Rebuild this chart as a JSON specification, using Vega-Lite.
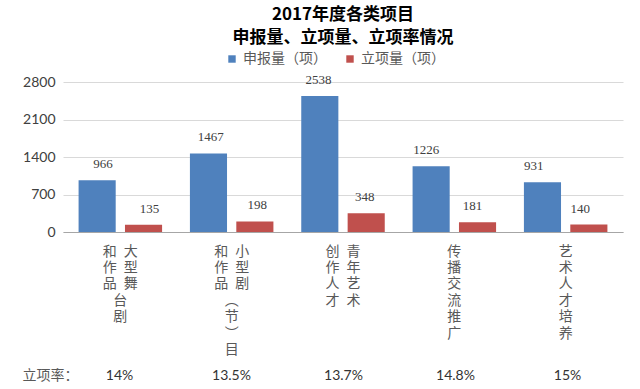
{
  "$schema": "https://vega.github.io/schema/vega-lite/v6.json",
  "autosize": "none",
  "width": 560,
  "height": 150,
  "padding": {"left": 63, "top": 82, "right": 17, "bottom": 157},
  "background": "white",
  "title": {
    "text": ["2017年度各类项目", "申报量、立项量、立项率情况"],
    "font": "Noto Sans CJK SC",
    "fontSize": 17,
    "fontWeight": "bold",
    "color": "#000000",
    "lineHeight": 23,
    "anchor": "middle",
    "frame": "group",
    "offset": 5
  },
  "datasets": {
    "bars": [
      {"cat": "大型舞台剧 和作品", "series": "申报量（项）", "value": 966},
      {"cat": "大型舞台剧 和作品", "series": "立项量（项）", "value": 135},
      {"cat": "小型剧︵节︶目 和作品", "series": "申报量（项）", "value": 1467},
      {"cat": "小型剧︵节︶目 和作品", "series": "立项量（项）", "value": 198},
      {"cat": "青年艺术 创作人才", "series": "申报量（项）", "value": 2538},
      {"cat": "青年艺术 创作人才", "series": "立项量（项）", "value": 348},
      {"cat": "传播交流推广", "series": "申报量（项）", "value": 1226},
      {"cat": "传播交流推广", "series": "立项量（项）", "value": 181},
      {"cat": "艺术人才培养", "series": "申报量（项）", "value": 931},
      {"cat": "艺术人才培养", "series": "立项量（项）", "value": 140}
    ],
    "rates": [
      {"cat": "大型舞台剧 和作品", "rate": "14%"},
      {"cat": "小型剧︵节︶目 和作品", "rate": "13.5%"},
      {"cat": "青年艺术 创作人才", "rate": "13.7%"},
      {"cat": "传播交流推广", "rate": "14.8%"},
      {"cat": "艺术人才培养", "rate": "15%"}
    ]
  },
  "layer": [
    {
      "data": {"name": "bars"},
      "mark": {"type": "bar"},
      "encoding": {
        "x": {
          "field": "cat", "type": "nominal", "sort": null,
          "scale": {"paddingInner": 0.25, "paddingOuter": 0.14},
          "axis": {
            "title": null,
            "labelAngle": 0,
            "ticks": false,
            "tickSize": 0,
            "domain": true,
            "domainColor": "#a6a6a6",
            "labelPadding": 12,
            "labelBaseline": "top",
            "labelFont": "Noto Sans CJK SC",
            "labelFontSize": 14,
            "labelLineHeight": 16.4,
            "labelColor": "#595959",
            "labelLimit": 0,
            "labelExpr": "[(length(split(datum.value,' '))==1 ? substring(split(datum.value,' ')[0],0,1) : (substring(split(datum.value,' ')[1],0,1)||'　')+'\u2002'+(substring(split(datum.value,' ')[0],0,1)||'　')), (length(split(datum.value,' '))==1 ? substring(split(datum.value,' ')[0],1,2) : (substring(split(datum.value,' ')[1],1,2)||'　')+'\u2002'+(substring(split(datum.value,' ')[0],1,2)||'　')), (length(split(datum.value,' '))==1 ? substring(split(datum.value,' ')[0],2,3) : (substring(split(datum.value,' ')[1],2,3)||'　')+'\u2002'+(substring(split(datum.value,' ')[0],2,3)||'　')), (length(split(datum.value,' '))==1 ? substring(split(datum.value,' ')[0],3,4) : (substring(split(datum.value,' ')[1],3,4)||'　')+'\u2002'+(substring(split(datum.value,' ')[0],3,4)||'　')), (length(split(datum.value,' '))==1 ? substring(split(datum.value,' ')[0],4,5) : (substring(split(datum.value,' ')[1],4,5)||'　')+'\u2002'+(substring(split(datum.value,' ')[0],4,5)||'　')), (length(split(datum.value,' '))==1 ? substring(split(datum.value,' ')[0],5,6) : (substring(split(datum.value,' ')[1],5,6)||'　')+'\u2002'+(substring(split(datum.value,' ')[0],5,6)||'　')), (length(split(datum.value,' '))==1 ? substring(split(datum.value,' ')[0],6,7) : (substring(split(datum.value,' ')[1],6,7)||'　')+'\u2002'+(substring(split(datum.value,' ')[0],6,7)||'　'))]"
          }
        },
        "xOffset": {"field": "series", "type": "nominal", "sort": null, "scale": {"paddingInner": 0.2}},
        "y": {
          "field": "value", "type": "quantitative",
          "scale": {"domain": [0, 2800]},
          "axis": {
            "title": null,
            "values": [0, 700, 1400, 2100, 2800],
            "format": "d",
            "domain": false,
            "ticks": false,
            "grid": true,
            "gridColor": "#d9d9d9",
            "labelPadding": 8,
            "labelFont": "Lato",
            "labelFontSize": 14,
            "labelColor": "#404040"
          }
        },
        "color": {
          "field": "series", "type": "nominal", "sort": null,
          "scale": {"domain": ["申报量（项）", "立项量（项）"], "range": ["#4F81BD", "#C0504D"]},
          "legend": {
            "title": null,
            "orient": "none",
            "direction": "horizontal",
            "legendX": 162,
            "legendY": -30,
            "symbolType": "square",
            "symbolSize": 55,
            "symbolStrokeWidth": 0,
            "labelFont": "Noto Sans CJK SC",
            "labelFontSize": 14,
            "labelColor": "#595959",
            "columnPadding": 16,
            "labelOffset": 4
          }
        }
      }
    },
    {
      "data": {"name": "bars"},
      "mark": {"type": "text", "baseline": "bottom", "dy": -9, "font": "Liberation Serif", "fontSize": 13, "color": "#404040"},
      "encoding": {
        "x": {"field": "cat", "type": "nominal", "sort": null, "axis": null},
        "xOffset": {"field": "series", "type": "nominal", "sort": null},
        "y": {
          "field": "value", "type": "quantitative",
          "axis": {
            "title": null,
            "values": [0, 700, 1400, 2100, 2800],
            "format": "d",
            "domain": false,
            "ticks": false,
            "grid": true,
            "gridColor": "#d9d9d9",
            "labelPadding": 8,
            "labelFont": "Lato",
            "labelFontSize": 14,
            "labelColor": "#404040"
          }
        },
        "text": {"field": "value", "type": "quantitative"}
      }
    },
    {
      "data": {"name": "rates"},
      "mark": {"type": "point", "opacity": 0},
      "encoding": {
        "x": {
          "field": "rate", "type": "nominal", "sort": null,
          "scale": {"paddingInner": 0.25, "paddingOuter": 0.14},
          "axis": {
            "orient": "bottom",
            "offset": 143,
            "title": "立项率：",
            "titleAngle": 0,
            "titleAlign": "left",
            "titleBaseline": "middle",
            "titleX": -41,
            "titleY": 0,
            "titleFont": "Noto Sans CJK SC",
            "titleFontSize": 14,
            "titleFontWeight": "normal",
            "titleColor": "#595959",
            "labelAngle": 0,
            "domain": false,
            "ticks": false,
            "tickSize": 0,
            "labelPadding": 0,
            "labelBaseline": "middle",
            "labelFont": "Lato",
            "labelFontSize": 14,
            "labelColor": "#333333"
          }
        }
      }
    }
  ],
  "resolve": {"scale": {"x": "independent"}, "axis": {"x": "independent"}},
  "config": {"view": {"stroke": null}}
}
